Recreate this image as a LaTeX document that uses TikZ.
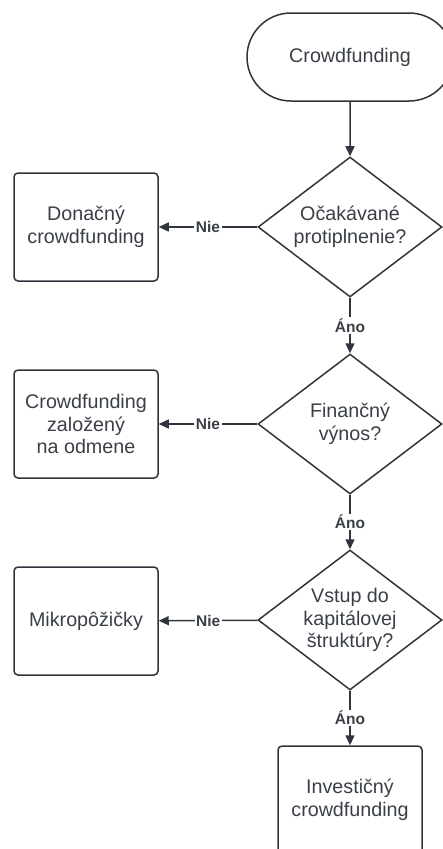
\documentclass[tikz,border=0pt]{standalone}
\usepackage{fontspec}
\setmainfont{Liberation Sans}
\usetikzlibrary{shapes.geometric,shapes.misc,arrows.meta}
\definecolor{linec}{HTML}{30353D}
\definecolor{textc}{HTML}{3A3F47}
\begin{document}
\begin{tikzpicture}[x=1pt,y=-1pt,
  base/.style={draw=linec,line width=1.5pt,text=textc,font=\fontsize{19.7}{22.5}\selectfont,align=center,inner sep=0pt},
  term/.style={base,rounded rectangle,minimum width=206pt,minimum height=88pt},
  boxn/.style={base,rectangle,rounded corners=4pt,minimum width=144pt,minimum height=108pt},
  dec/.style={base,diamond,minimum width=184pt,minimum height=140pt},
  inner/.style={text=textc,font=\fontsize{19.7}{22.5}\selectfont,align=center,inner sep=0pt},
  arr/.style={draw=linec,line width=1.5pt,-{Triangle[length=10pt,width=9pt]}},
  lab/.style={fill=white,text=textc,font=\fontsize{15.5}{18}\selectfont\bfseries,inner sep=1.5pt}]
\useasboundingbox (0,0) rectangle (443,849);
\node[term] (t) at (350,57) {Crowdfunding};
\node[dec,label={[inner]center:{Očakávané\\protiplnenie?}}] (d1) at (350,227) {};
\node[boxn] (b1) at (86,227) {Donačný\\crowdfunding};
\node[dec,label={[inner]center:{Finančný\\výnos?}}] (d2) at (350,424) {};
\node[boxn] (b2) at (86,424) {Crowdfunding\\založený\\na odmene};
\node[dec,label={[inner]center:{Vstup do\\kapitálovej\\štruktúry?}}] (d3) at (350,620) {};
\node[boxn] (b3) at (86,621) {Mikropôžičky};
\node[boxn] (b4) at (350,800) {Investičný\\crowdfunding};
\draw[arr] (t) -- (d1);
\draw[arr] (d1) -- node[lab]{Nie} (b1);
\draw[arr] (d1) -- node[lab]{Áno} (d2);
\draw[arr] (d2) -- node[lab]{Nie} (b2);
\draw[arr] (d2) -- node[lab]{Áno} (d3);
\draw[arr] (d3) -- node[lab]{Nie} (b3);
\draw[arr] (d3) -- node[lab]{Áno} (b4);
\end{tikzpicture}
\end{document}
